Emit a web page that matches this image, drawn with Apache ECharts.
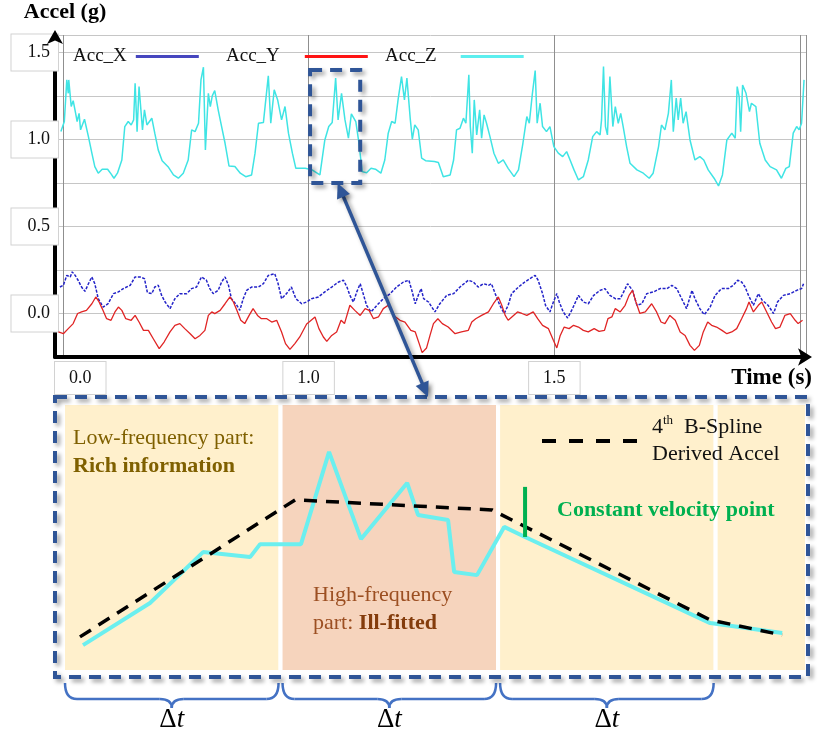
<!DOCTYPE html>
<html>
<head>
<meta charset="utf-8">
<script src="https://cdn.jsdelivr.net/npm/echarts@6/dist/echarts.min.js"></script>
<style>
html,body{margin:0;padding:0;background:#fff;}
#main{width:819px;height:737px;}
</style>
</head>
<body>
<div id="main"></div>
<script>
const SERIF = '"Liberation Serif","Times New Roman",serif';

// ---------- accelerometer traces: [time (s), accel (g)] ----------
const accZ = [
[0.496,1.045],[0.503,1.103],[0.508,1.342],[0.511,1.265],[0.512,1.342],[0.517,1.189],[0.521,1.223],[0.526,1.150],[0.529,1.103],[0.533,1.150],
[0.536,1.055],[0.544,1.116],[0.552,1.016],[0.559,0.921],[0.565,0.844],[0.572,0.806],[0.580,0.829],[0.591,0.829],[0.598,0.802],[0.604,0.777],
[0.611,0.806],[0.620,0.882],[0.626,1.074],[0.633,1.103],[0.639,1.083],[0.644,1.112],[0.647,1.323],[0.651,1.045],[0.655,1.304],[0.659,1.313],
[0.662,1.055],[0.666,1.170],[0.671,1.083],[0.681,1.122],[0.687,1.036],[0.694,0.940],[0.702,0.878],[0.715,0.840],[0.725,0.796],[0.735,0.777],
[0.745,0.806],[0.755,0.882],[0.762,1.055],[0.769,1.045],[0.776,1.093],[0.781,1.342],[0.786,1.415],[0.790,0.940],[0.796,1.265],[0.800,1.189],
[0.804,1.250],[0.809,1.281],[0.816,1.170],[0.823,1.074],[0.830,0.978],[0.838,0.848],[0.850,0.844],[0.861,0.806],[0.872,0.786],[0.884,0.796],
[0.891,0.921],[0.898,1.093],[0.908,1.097],[0.918,1.365],[0.923,1.093],[0.930,1.285],[0.937,1.227],[0.945,1.112],[0.952,1.189],[0.959,1.036],
[0.967,0.921],[0.974,0.834],[0.993,0.834],[1.007,0.825],[1.023,0.796],[1.033,0.997],[1.041,1.074],[1.048,1.097],[1.055,1.352],[1.060,1.112],
[1.067,1.265],[1.074,1.112],[1.081,1.007],[1.087,1.147],[1.096,1.103],[1.102,0.988],[1.109,0.815],[1.118,0.809],[1.127,0.834],[1.136,0.829],
[1.147,0.806],[1.155,0.882],[1.162,1.036],[1.169,1.103],[1.176,1.093],[1.182,1.227],[1.189,1.361],[1.195,1.227],[1.200,1.352],[1.207,1.112],
[1.211,1.001],[1.216,1.083],[1.223,1.055],[1.230,0.892],[1.238,0.878],[1.256,0.873],[1.264,0.867],[1.274,0.786],[1.288,0.796],[1.295,0.882],
[1.301,1.055],[1.308,1.064],[1.315,1.122],[1.320,1.093],[1.326,1.371],[1.329,1.074],[1.333,0.921],[1.337,1.227],[1.342,1.026],[1.348,1.170],
[1.352,1.007],[1.357,1.141],[1.362,1.093],[1.369,1.016],[1.377,0.921],[1.386,0.863],[1.396,0.882],[1.406,0.834],[1.418,0.786],[1.427,0.825],
[1.436,0.978],[1.444,1.131],[1.449,1.093],[1.455,1.256],[1.461,1.396],[1.465,1.093],[1.471,1.208],[1.476,1.074],[1.484,1.045],[1.491,1.074],
[1.499,0.959],[1.508,0.921],[1.517,0.901],[1.525,0.930],[1.532,0.882],[1.540,0.825],[1.549,0.767],[1.559,0.786],[1.569,0.882],[1.578,1.016],
[1.586,1.045],[1.593,1.026],[1.596,1.112],[1.600,1.419],[1.604,1.074],[1.608,1.026],[1.613,1.361],[1.619,1.074],[1.624,1.189],[1.630,1.093],
[1.635,1.150],[1.640,1.074],[1.647,0.959],[1.654,0.863],[1.668,0.825],[1.681,0.806],[1.693,0.777],[1.701,0.806],[1.712,0.959],[1.718,1.083],
[1.725,1.055],[1.732,1.150],[1.738,1.342],[1.742,1.045],[1.748,1.237],[1.752,1.112],[1.757,1.237],[1.762,1.093],[1.768,1.160],[1.776,0.997],
[1.786,0.882],[1.796,0.901],[1.804,0.882],[1.813,0.825],[1.825,0.777],[1.834,0.733],[1.842,0.796],[1.851,0.997],[1.861,1.036],[1.868,1.007],
[1.872,1.304],[1.876,1.246],[1.879,1.045],[1.883,1.313],[1.890,1.265],[1.897,1.160],[1.901,1.208],[1.910,1.189],[1.918,0.978],[1.929,0.882],
[1.939,0.844],[1.952,0.825],[1.962,0.777],[1.971,0.834],[1.978,0.844],[1.986,1.036],[1.993,1.074],[1.998,1.055],[2.003,1.093],[2.008,1.342]
];

const accX = [
[0.494,0.152],[0.501,0.162],[0.508,0.219],[0.515,0.210],[0.519,0.239],[0.525,0.219],[0.531,0.191],[0.538,0.152],[0.545,0.127],[0.552,0.171],
[0.559,0.210],[0.565,0.171],[0.572,0.085],[0.582,0.037],[0.592,0.056],[0.603,0.114],[0.613,0.124],[0.623,0.143],[0.637,0.162],[0.647,0.210],
[0.657,0.210],[0.666,0.200],[0.672,0.120],[0.681,0.114],[0.687,0.152],[0.694,0.162],[0.701,0.104],[0.708,0.066],[0.718,0.028],[0.728,0.085],
[0.738,0.114],[0.752,0.114],[0.762,0.143],[0.772,0.152],[0.782,0.210],[0.792,0.191],[0.799,0.143],[0.806,0.114],[0.816,0.133],[0.823,0.181],
[0.830,0.210],[0.837,0.162],[0.843,0.085],[0.854,0.047],[0.860,0.018],[0.867,0.085],[0.874,0.133],[0.884,0.152],[0.898,0.152],[0.908,0.171],
[0.918,0.219],[0.931,0.229],[0.938,0.171],[0.945,0.085],[0.955,0.114],[0.965,0.152],[0.974,0.085],[0.986,0.056],[0.996,0.066],[1.006,0.085],
[1.020,0.095],[1.033,0.124],[1.047,0.152],[1.061,0.181],[1.071,0.191],[1.078,0.152],[1.084,0.104],[1.091,0.066],[1.098,0.124],[1.105,0.171],
[1.111,0.114],[1.118,0.047],[1.127,0.009],[1.139,0.047],[1.152,0.085],[1.166,0.114],[1.179,0.152],[1.193,0.181],[1.204,0.191],[1.210,0.133],
[1.217,0.056],[1.223,0.104],[1.229,0.143],[1.234,0.085],[1.244,0.066],[1.257,0.009],[1.267,0.056],[1.281,0.104],[1.295,0.114],[1.308,0.152],
[1.325,0.191],[1.335,0.181],[1.345,0.152],[1.356,0.171],[1.366,0.162],[1.372,0.171],[1.381,0.104],[1.389,0.047],[1.398,0.000],[1.406,0.047],
[1.413,0.114],[1.427,0.152],[1.440,0.181],[1.450,0.200],[1.461,0.219],[1.467,0.191],[1.476,0.114],[1.482,0.047],[1.491,0.009],[1.498,0.066],
[1.505,0.114],[1.510,0.066],[1.518,0.009],[1.527,-0.026],[1.537,0.028],[1.549,0.104],[1.559,0.066],[1.569,0.056],[1.580,0.104],[1.593,0.133],
[1.603,0.143],[1.613,0.104],[1.624,0.085],[1.634,0.085],[1.641,0.124],[1.649,0.171],[1.659,0.133],[1.668,0.047],[1.678,0.056],[1.688,0.114],
[1.702,0.124],[1.715,0.143],[1.729,0.143],[1.739,0.162],[1.749,0.143],[1.759,0.085],[1.769,0.028],[1.780,0.133],[1.786,0.085],[1.796,0.028],
[1.805,-0.007],[1.817,0.037],[1.827,0.104],[1.840,0.143],[1.854,0.143],[1.864,0.162],[1.873,0.191],[1.881,0.181],[1.888,0.152],[1.895,0.104],
[1.905,0.047],[1.915,0.114],[1.923,0.076],[1.935,0.047],[1.946,0.000],[1.954,0.066],[1.966,0.104],[1.980,0.114],[1.993,0.133],[2.003,0.143],
[2.007,0.171]
];

const accY = [
[0.491,-0.106],[0.501,-0.116],[0.511,-0.087],[0.521,-0.058],[0.530,0.000],[0.538,0.009],[0.548,0.018],[0.559,0.056],[0.567,0.095],[0.573,0.070],
[0.580,0.028],[0.589,-0.030],[0.598,-0.039],[0.606,0.009],[0.613,0.037],[0.620,0.018],[0.628,-0.030],[0.639,-0.039],[0.647,-0.011],[0.655,-0.049],
[0.664,-0.097],[0.674,-0.097],[0.684,-0.145],[0.696,-0.202],[0.706,-0.164],[0.718,-0.106],[0.728,-0.068],[0.738,-0.058],[0.748,-0.087],[0.759,-0.116],
[0.769,-0.145],[0.779,-0.126],[0.789,-0.097],[0.796,-0.011],[0.803,0.009],[0.809,-0.001],[0.820,0.018],[0.830,0.056],[0.840,0.095],[0.847,0.066],
[0.854,0.018],[0.862,-0.039],[0.870,-0.058],[0.879,-0.011],[0.887,0.028],[0.896,-0.011],[0.904,-0.030],[0.915,-0.030],[0.925,-0.049],[0.935,-0.039],
[0.945,-0.106],[0.953,-0.173],[0.962,-0.206],[0.972,-0.173],[0.982,-0.135],[0.996,-0.060],[1.001,-0.049],[1.013,-0.020],[1.021,-0.087],[1.030,-0.135],
[1.037,-0.160],[1.047,-0.126],[1.057,-0.106],[1.066,-0.039],[1.073,-0.058],[1.084,0.047],[1.094,0.018],[1.105,-0.011],[1.115,0.028],[1.123,0.018],
[1.132,-0.030],[1.142,-0.020],[1.152,0.028],[1.162,0.047],[1.173,-0.011],[1.186,-0.039],[1.196,-0.049],[1.208,-0.097],[1.217,-0.106],[1.225,-0.173],
[1.231,-0.225],[1.240,-0.198],[1.247,-0.126],[1.254,-0.058],[1.263,-0.030],[1.272,-0.058],[1.284,-0.078],[1.298,-0.116],[1.311,-0.106],[1.325,-0.097],
[1.332,-0.049],[1.340,-0.030],[1.352,-0.011],[1.366,0.009],[1.376,0.056],[1.386,0.095],[1.393,0.047],[1.400,-0.011],[1.406,-0.039],[1.417,-0.011],
[1.425,0.009],[1.434,0.000],[1.444,-0.011],[1.457,0.009],[1.466,-0.030],[1.476,-0.068],[1.488,-0.087],[1.498,-0.154],[1.505,-0.198],[1.512,-0.126],
[1.520,-0.078],[1.530,-0.087],[1.539,-0.068],[1.549,-0.078],[1.559,-0.097],[1.569,-0.106],[1.581,-0.087],[1.591,-0.103],[1.602,-0.097],[1.609,-0.030],
[1.617,-0.020],[1.624,0.028],[1.634,0.009],[1.644,0.047],[1.652,0.104],[1.659,0.133],[1.666,0.066],[1.674,0.000],[1.685,0.009],[1.698,0.056],
[1.708,0.009],[1.717,-0.049],[1.725,-0.058],[1.735,-0.011],[1.746,-0.039],[1.756,-0.106],[1.766,-0.126],[1.776,-0.183],[1.785,-0.212],[1.795,-0.183],
[1.803,-0.106],[1.812,-0.049],[1.820,-0.068],[1.830,-0.078],[1.841,-0.097],[1.851,-0.116],[1.861,-0.106],[1.871,-0.087],[1.881,-0.030],[1.891,0.028],
[1.896,0.066],[1.905,0.009],[1.915,0.047],[1.922,0.066],[1.932,0.009],[1.942,-0.049],[1.950,-0.087],[1.959,-0.078],[1.969,-0.011],[1.980,-0.001],
[1.990,-0.039],[1.996,-0.058],[2.005,-0.039]
];

// ---------- axis ticks ----------
const tMin = 0.484, tMax = 2.012;
const gMin = -0.25, gMax = 1.6;
const yTickValues = [0, 0.5, 1.0, 1.5];
const yTickLabels = ['0.0', '0.5', '1.0', '1.5'];
const xTickValues = [1.0, 1.5];
const xTickLabels = ['1.0', '1.5'];
const xStartLabel = '0.0';

// window of the trace shown enlarged below: time span and accel span
const zoomTime = [1.003, 1.105];
const zoomAccel = [0.75, 1.399];

// ---------- enlarged segment: x in units of Δt, y normalised ----------
const segAccZ = [
[0.092,0.094],[0.400,0.253],[0.644,0.445],[0.860,0.426],[0.906,0.475],[1.094,0.475],[1.223,0.823],[1.370,0.494],[1.582,0.706],
[1.632,0.585],[1.770,0.566],[1.798,0.370],[1.903,0.358],[2.028,0.540],[2.124,0.502],[2.975,0.177],[3.306,0.140]
];
const segSpline = [[0.078,0.125],[1.067,0.642],[1.972,0.604],[2.975,0.189],[3.306,0.132]];
const cvPoint = [[2.124,0.502],[2.124,0.691]];
const bandEdges = [0, 1, 2, 3, 3.42];
const bandKinds = ['low', 'high', 'low', 'low'];
const bandFill = {low: '#FFF0CC', high: '#F6D4BD'};

function yLabel(v) {
  const i = yTickValues.findIndex(x => Math.abs(x - v) < 1e-6);
  return i < 0 ? '' : '{b|' + yTickLabels[i] + '}';
}
function xLabel(v) {
  if (Math.abs(v - tMin) < 1e-6) return '{b|' + xStartLabel + '}';
  const i = xTickValues.findIndex(x => Math.abs(x - v) < 1e-6);
  return i < 0 ? '' : '{b|' + xTickLabels[i] + '}';
}

const boxLabel = {fontFamily: SERIF, fontSize: 18, color: '#111', borderColor: '#d2d2d2', borderWidth: 1, backgroundColor: '#fff'};

const chart = echarts.init(document.getElementById('main'), null, {renderer: 'canvas'});

const legendBase = {
  align: 'right', icon: 'rect', itemWidth: 63, itemHeight: 3, padding: 0, top: 47,
  selectedMode: false
};

// dashed-line key for the spline series
const dashKey = 'path://M0,0H14V4H0Z M27,0H41V4H27Z M54,0H68V4H54Z M81,0H95V4H81Z';

const option = {
  animation: false,
  backgroundColor: '#fff',
  grid: [
    {left: 55, top: 35, width: 751, height: 322},
    {left: 63, top: 403, width: 744, height: 269}
  ],
  legend: [
    Object.assign({}, legendBase, {left: 73, data: [{name: 'Acc_X', itemStyle: {color: '#4646BE'}}],
      textStyle: {fontFamily: SERIF, fontSize: 19, color: '#111', padding: [0, 4, 0, 0]}}),
    Object.assign({}, legendBase, {left: 226, data: [{name: 'Acc_Y', itemStyle: {color: '#FF1414'}}],
      textStyle: {fontFamily: SERIF, fontSize: 19, color: '#111', padding: [0, 20, 0, 0]}}),
    Object.assign({}, legendBase, {left: 385, data: [{name: 'Acc_Z', itemStyle: {color: '#5CEFEF'}}],
      textStyle: {fontFamily: SERIF, fontSize: 19, color: '#111', padding: [0, 19, 0, 0]}}),
    {
      left: 542, top: 414, padding: 0, itemWidth: 95, itemHeight: 4, selectedMode: false,
      icon: dashKey,
      data: [{name: 'B-Spline', itemStyle: {color: '#000'}}],
      formatter: () => '{a|4}{s|th}{a|  B-Spline}\n{a|Derived Accel}',
      textStyle: {
        padding: [0, 0, 0, 10],
        rich: {
          a: {fontFamily: SERIF, fontSize: 22, color: '#111', lineHeight: 27},
          s: {fontFamily: SERIF, fontSize: 13, color: '#111', lineHeight: 13, verticalAlign: 'top'}
        }
      }
    }
  ],
  xAxis: [
    {
      gridIndex: 0, type: 'value', min: tMin, max: tMax, splitNumber: 3,
      name: 'Time (s)', nameLocation: 'end', nameGap: 6,
      nameTextStyle: {fontFamily: SERIF, fontWeight: 'bold', fontSize: 23, color: '#000',
        align: 'right', verticalAlign: 'top', padding: [10, 0, 0, 0]},
      axisLine: {onZero: false, lineStyle: {color: '#000', width: 4},
        symbol: ['none', 'arrow'], symbolSize: [13, 14], symbolOffset: [0, 6]},
      axisTick: {show: false},
      splitLine: {show: true, lineStyle: {color: '#8f8f8f', width: 1}},
      axisLabel: {
        showMinLabel: true, showMaxLabel: false, alignMinLabel: 'left', margin: 5,
        formatter: xLabel,
        rich: {b: Object.assign({}, boxLabel, {padding: [7, 14, 7, 14]})}
      }
    },
    {gridIndex: 1, type: 'value', min: bandEdges[0], max: bandEdges[bandEdges.length - 1], show: false}
  ],
  yAxis: [
    {
      gridIndex: 0, type: 'value', min: gMin, max: gMax, interval: 0.25,
      name: 'Accel (g)', nameLocation: 'end', nameGap: 12,
      nameTextStyle: {fontFamily: SERIF, fontWeight: 'bold', fontSize: 22, color: '#000', padding: [0, 0, 0, 20]},
      axisLine: {onZero: false, lineStyle: {color: '#000', width: 4},
        symbol: ['none', 'arrow'], symbolSize: [12, 14], symbolOffset: [0, 5]},
      axisTick: {show: false},
      splitLine: {show: true, lineStyle: {color: '#c6c6c6', width: 1}},
      axisLabel: {
        showMinLabel: false, showMaxLabel: false, margin: -3,
        formatter: yLabel,
        rich: {b: Object.assign({}, boxLabel, {padding: [9, 8, 9, 16]})}
      }
    },
    {gridIndex: 1, type: 'value', min: -0.0075, max: 1.0075, show: false}
  ],
  series: [
    {name: 'Acc_X', type: 'line', xAxisIndex: 0, yAxisIndex: 0, data: accX, showSymbol: false, symbol: 'none',
      lineStyle: {color: '#2323C8', width: 1.5, type: [3, 1.5]}, itemStyle: {color: '#2323C8'}, z: 3},
    {name: 'Acc_Y', type: 'line', xAxisIndex: 0, yAxisIndex: 0, data: accY, showSymbol: false, symbol: 'none',
      lineStyle: {color: '#E02424', width: 1.3}, itemStyle: {color: '#E02424'}, z: 3},
    {name: 'Acc_Z', type: 'line', xAxisIndex: 0, yAxisIndex: 0, data: accZ, showSymbol: false, symbol: 'none',
      lineStyle: {color: '#3FE4E4', width: 1.5}, itemStyle: {color: '#3FE4E4'}, z: 4},
    {
      name: 'Acc_Z segment', type: 'line', xAxisIndex: 1, yAxisIndex: 1, data: segAccZ, showSymbol: false, symbol: 'none',
      lineStyle: {color: '#6BEFEF', width: 4}, itemStyle: {color: '#6BEFEF'}, z: 4,
      markArea: {
        silent: true,
        data: bandKinds.map((k, i) => [
          {xAxis: bandEdges[i], itemStyle: {color: bandFill[k], borderColor: '#fff', borderWidth: 4}},
          {xAxis: bandEdges[i + 1]}
        ])
      }
    },
    {name: 'B-Spline', type: 'line', xAxisIndex: 1, yAxisIndex: 1, data: segSpline, showSymbol: false, symbol: 'none',
      lineStyle: {color: '#000', width: 3.5, type: [13, 9]}, itemStyle: {color: '#000'}, z: 5},
    {name: 'Constant velocity point', type: 'line', xAxisIndex: 1, yAxisIndex: 1, data: cvPoint, showSymbol: false, symbol: 'none',
      lineStyle: {color: '#00B050', width: 4}, itemStyle: {color: '#00B050'}, z: 6}
  ]
};

chart.setOption(option);

// ---------- annotations placed from the axes ----------
const toPx = (g, v) => chart.convertToPixel({gridIndex: g}, v);
const FRAME = '#2F5597';
const shadow = {shadowBlur: 4, shadowOffsetX: 3, shadowOffsetY: 3, shadowColor: 'rgba(0,0,0,0.38)'};
const dashed = Object.assign({fill: 'none', stroke: FRAME, lineWidth: 4, lineDash: [12, 8]}, shadow);

const zA = toPx(0, [zoomTime[0], zoomAccel[1]]);
const zB = toPx(0, [zoomTime[1], zoomAccel[0]]);
const smallBox = {x: zA[0], y: zA[1], width: zB[0] - zA[0], height: zB[1] - zA[1]};

const pA = toPx(1, [bandEdges[0], 1.0075]);
const pB = toPx(1, [bandEdges[bandEdges.length - 1], -0.0075]);
const frame = {x: pA[0] - 8, y: pA[1] - 6, width: pB[0] - pA[0] + 9, height: pB[1] - pA[1] + 11};

const graphics = [];
graphics.push({type: 'rect', z: 50, shape: smallBox, style: dashed});
graphics.push({type: 'rect', z: 50, shape: frame, style: dashed});

// double-headed connector from the window to the enlarged panel
const s = [smallBox.x + smallBox.width * 0.55, smallBox.y + smallBox.height];
const e = [frame.x + 373, frame.y];
const len = Math.hypot(e[0] - s[0], e[1] - s[1]);
const d = [(e[0] - s[0]) / len, (e[1] - s[1]) / len];
const n = [-d[1], d[0]];
const headL = 15, headW = 7;
graphics.push({type: 'line', z: 51, shape: {x1: s[0] + d[0] * 8, y1: s[1] + d[1] * 8, x2: e[0] - d[0] * 8, y2: e[1] - d[1] * 8},
  style: Object.assign({stroke: FRAME, lineWidth: 3.5}, shadow)});
[[s, 1], [e, -1]].forEach(([tip, sg]) => {
  const bx = tip[0] + sg * d[0] * headL, by = tip[1] + sg * d[1] * headL;
  graphics.push({type: 'polygon', z: 52, shape: {points: [tip, [bx + n[0] * headW, by + n[1] * headW], [bx - n[0] * headW, by - n[1] * headW]]},
    style: Object.assign({fill: FRAME}, shadow)});
});

// braces under the first three Δt intervals
const BRACE = '#4472C4';
const braceStyle = {stroke: BRACE, lineWidth: 2.5, fill: 'none'};
const yTop = frame.y + frame.height + 6, yMid = yTop + 16, yTip = yTop + 25;
for (let k = 0; k < 3; k++) {
  const x0 = toPx(1, [bandEdges[k], 0])[0] + 2;
  const x1 = toPx(1, [bandEdges[k + 1], 0])[0] - 2;
  const cx = (x0 + x1) / 2, r = 12;
  graphics.push(
    {type: 'bezierCurve', z: 40, shape: {x1: x0, y1: yTop, x2: x0 + r, y2: yMid, cpx1: x0, cpy1: yMid}, style: braceStyle},
    {type: 'line', z: 40, shape: {x1: x0 + r, y1: yMid, x2: cx - r, y2: yMid}, style: braceStyle},
    {type: 'bezierCurve', z: 40, shape: {x1: cx - r, y1: yMid, x2: cx, y2: yTip, cpx1: cx, cpy1: yMid}, style: braceStyle},
    {type: 'bezierCurve', z: 40, shape: {x1: cx, y1: yTip, x2: cx + r, y2: yMid, cpx1: cx, cpy1: yMid}, style: braceStyle},
    {type: 'line', z: 40, shape: {x1: cx + r, y1: yMid, x2: x1 - r, y2: yMid}, style: braceStyle},
    {type: 'bezierCurve', z: 40, shape: {x1: x1 - r, y1: yMid, x2: x1, y2: yTop, cpx1: x1, cpy1: yMid}, style: braceStyle}
  );
  graphics.push({type: 'text', z: 40, x: cx, y: yTip + 12, style: {
    text: '{d|Δ}{t|t}', align: 'center', verticalAlign: 'middle',
    rich: {d: {fontFamily: SERIF, fontSize: 27, fill: '#000'}, t: {fontFamily: SERIF, fontSize: 27, fontStyle: 'italic', fill: '#000'}}
  }});
}

// panel captions
const fx = frame.x, fy = frame.y;
const txt = (x, y, text, fill, weight) => ({type: 'text', z: 60, x: fx + x, y: fy + y, style: {
  text: text, fill: fill, fontFamily: SERIF, fontSize: 22, fontWeight: weight || 'normal', align: 'left', verticalAlign: 'middle'}});
graphics.push(txt(18, 41, 'Low-frequency part:', '#7F6000'));
graphics.push(txt(18, 69, 'Rich information', '#7F6000', 'bold'));
graphics.push(txt(258, 198, 'High-frequency', '#9C4F22'));
graphics.push({type: 'text', z: 60, x: fx + 258, y: fy + 226, style: {
  text: '{n|part: }{b|Ill-fitted}', align: 'left', verticalAlign: 'middle',
  rich: {n: {fontFamily: SERIF, fontSize: 22, fill: '#9C4F22'}, b: {fontFamily: SERIF, fontSize: 22, fontWeight: 'bold', fill: '#843C0C'}}
}});
graphics.push(txt(502, 113, 'Constant velocity point', '#00B050', 'bold'));

chart.setOption({graphic: graphics});
</script>
</body>
</html>
